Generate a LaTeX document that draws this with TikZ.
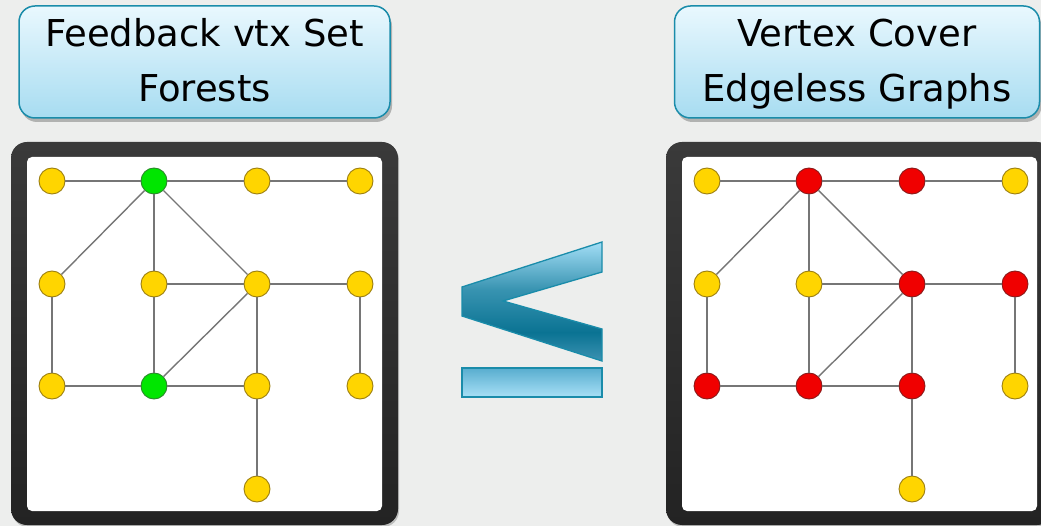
\documentclass[tikz,border=0pt]{standalone}
\usepackage{fontspec}
\setmainfont{DejaVu Sans}
\usetikzlibrary{shadows}

\definecolor{bg}{HTML}{EDEEED}
\definecolor{teal}{HTML}{1A8CAA}
\definecolor{boxtop}{HTML}{E9F8FE}
\definecolor{boxbot}{HTML}{A7DCF1}
\definecolor{frametop}{HTML}{3A3A3A}
\definecolor{framebot}{HTML}{232323}
\definecolor{edgegray}{HTML}{767676}
\definecolor{vyellow}{HTML}{FFD500}
\definecolor{vyellowline}{HTML}{9C7F10}
\definecolor{vgreen}{HTML}{00E600}
\definecolor{vgreenline}{HTML}{2A8A2A}
\definecolor{vred}{HTML}{F00000}
\definecolor{vredline}{HTML}{8A1A1A}
\definecolor{chevtop}{HTML}{A3DEF6}
\definecolor{chevdark}{HTML}{0A7393}
\definecolor{chevbot}{HTML}{3C92B2}
\definecolor{bartop}{HTML}{58ADCF}
\definecolor{barbot}{HTML}{A8E0F6}

% chevron of the "less or equal" sign: light at the tip, darkest near the lower arm
\pgfdeclareverticalshading{chevshade}{100bp}{%
  color(0bp)=(chevbot); color(25bp)=(chevbot); color(37bp)=(chevdark);
  color(55bp)=(chevdark!70!chevtop); color(75bp)=(chevtop); color(100bp)=(chevtop)}

\tikzset{
  titlebox/.style={draw=teal, line width=1.5pt, rounded corners=16pt,
    top color=boxtop, bottom color=boxbot,
    drop shadow={shadow xshift=2pt, shadow yshift=-4pt, opacity=0.25, fill=black},
    minimum height=112pt, inner sep=0pt},
  titletext/.style={font=\fontsize{37}{44}\selectfont, anchor=base, inner sep=0pt},
  frameouter/.style={top color=frametop, bottom color=framebot, rounded corners=16pt,
    drop shadow={shadow xshift=1pt, shadow yshift=-2pt, opacity=0.2, fill=black}},
  frameinner/.style={fill=white, rounded corners=5pt},
  vtx/.style={circle, draw=vyellowline, fill=vyellow, line width=0.9pt,
    minimum size=26pt, inner sep=0pt},
  greenv/.style={fill=vgreen, draw=vgreenline},
  redv/.style={fill=vred, draw=vredline},
  edge/.style={draw=edgegray, line width=1.4pt},
  signpart/.style={draw=teal, line width=1.3pt, line join=miter},
  vtx L12/.style={greenv}, vtx L32/.style={greenv},
  vtx R12/.style={redv}, vtx R13/.style={redv}, vtx R23/.style={redv},
  vtx R24/.style={redv}, vtx R31/.style={redv}, vtx R32/.style={redv},
  vtx R33/.style={redv},
}

\begin{document}
\begin{tikzpicture}[x=1pt, y=-1pt]
\useasboundingbox (0,0) rectangle (1041,526);
\fill[bg] (0,0) rectangle (1041,526);

% problem titles
\node[titlebox, minimum width=371pt] (fvsbox) at (204.5,62) {};
\node[titletext] (fvs1) at (204.5,47) {Feedback vtx Set};
\node[titletext] (fvs2) at (204.5,102) {Forests};
\node[titlebox, minimum width=365pt] (vcbox) at (857,62) {};
\node[titletext] (vc1) at (857,47) {Vertex Cover};
\node[titletext] (vc2) at (857,102) {Edgeless Graphs};

% picture frames
\path[frameouter] (11,142) rectangle (398,525);
\path[frameinner] (27,157) rectangle (382,511);
\path[frameouter] (666,142) rectangle (1053,525);
\path[frameinner] (682,157) rectangle (1037,511);

% the same graph twice: solution vertices in green (left) and red (right)
\foreach \p/\dx in {L/0, R/655} {
  \foreach \r/\y in {1/181, 2/284, 3/386} {
    \foreach \c/\x in {1/52, 2/154, 3/257, 4/360} {
      \node[vtx, vtx \p\r\c/.try] (\p\r\c) at (\x+\dx,\y) {};
    }
  }
  \node[vtx] (\p43) at (257+\dx,489) {};
  \foreach \a/\b in {11/12, 12/13, 13/14, 12/21, 12/22, 12/23, 22/23, 23/24,
                     21/31, 22/32, 23/32, 23/33, 24/34, 31/32, 32/33, 33/43} {
    \draw[edge] (\p\a) -- (\p\b);
  }
}

% less-or-equal sign
\path[signpart, shading=chevshade]
  (602,242) -- (602,272) -- (503,301) -- (602,329) -- (602,361)
  -- (462,316) -- (462,287) -- cycle;
\path[signpart, top color=bartop, bottom color=barbot]
  (462,368) rectangle (602,397);
\end{tikzpicture}
\end{document}
